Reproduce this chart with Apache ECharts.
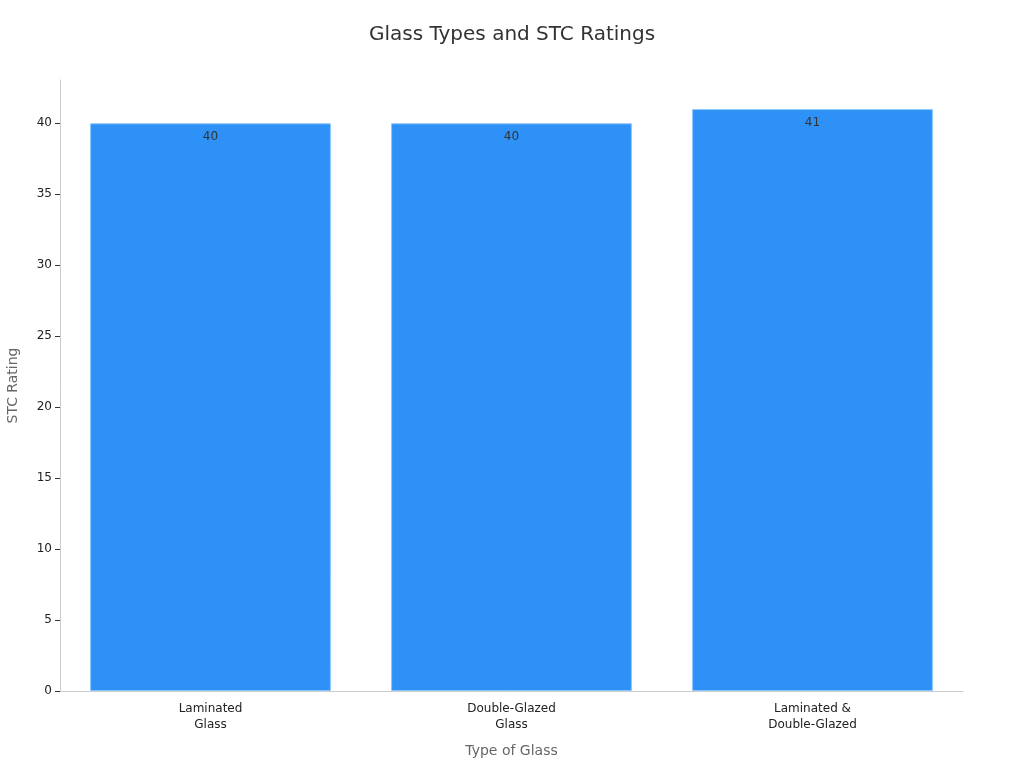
<!DOCTYPE html>
<html><head><meta charset="utf-8">
<script src="https://cdn.jsdelivr.net/npm/echarts@6/dist/echarts.min.js"></script>
<style>html,body{margin:0;padding:0;background:#fff}#c{width:1024px;height:768px}</style>
</head><body><div id="c"></div>
<script>
var categories = ['Laminated\nGlass', 'Double-Glazed\nGlass', 'Laminated &\nDouble-Glazed'];
var stcValues = [40, 40, 41];
var chart = echarts.init(document.getElementById('c'));
chart.setOption({
  animation: false,
  textStyle: {fontFamily: 'DejaVu Sans'},
  title: {text: 'Glass Types and STC Ratings', left: 'center', top: 20,
    textStyle: {fontSize: 20, fontWeight: 'normal', color: '#333', fontFamily: 'DejaVu Sans'}},
  grid: {left: 60, right: 61, top: 80, bottom: 77, containLabel: false, outerBoundsMode: 'none'},
  xAxis: {type: 'category', data: categories, name: 'Type of Glass', nameLocation: 'middle', nameGap: 53,
    nameTextStyle: {fontSize: 14, color: '#666'},
    axisLine: {lineStyle: {color: '#ccc'}},
    axisTick: {alignWithLabel: true, lineStyle: {color: '#333'}},
    axisLabel: {fontSize: 12, color: '#222', lineHeight: 16, margin: 10}},
  yAxis: {type: 'value', min: 0, max: 43.05, interval: 5, name: 'STC Rating', nameLocation: 'middle', nameGap: 40,
    nameTextStyle: {fontSize: 14, color: '#666'},
    axisLine: {show: true, lineStyle: {color: '#ccc'}},
    axisTick: {show: true, lineStyle: {color: '#333'}},
    splitLine: {show: false},
    axisLabel: {fontSize: 12, color: '#222', showMaxLabel: false}},
  series: [{type: 'bar', data: stcValues, barCategoryGap: '20%',
    itemStyle: {color: '#2e91f8', borderColor: '#8ec5fa', borderWidth: 1},
    label: {show: true, position: 'insideTop', offset: [0, 3], color: '#333', fontSize: 12}}]
});
</script></body></html>
